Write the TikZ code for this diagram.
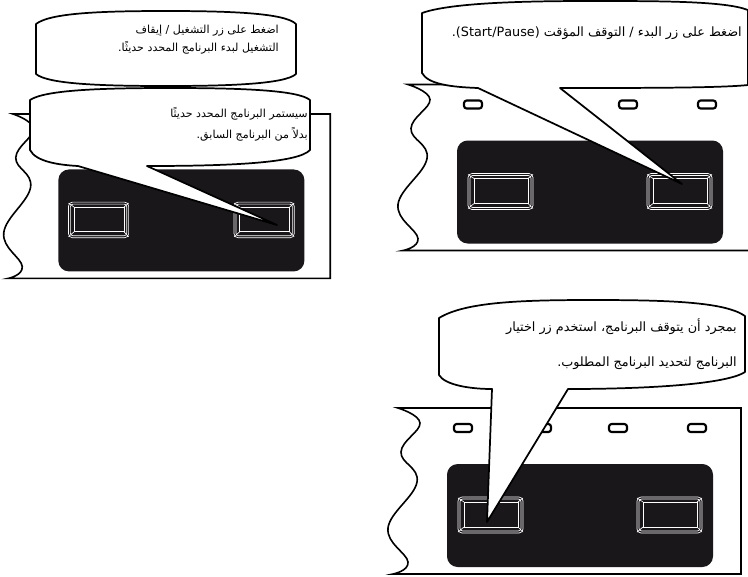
\documentclass[tikz,border=0pt]{standalone}
\usepackage{fontspec}
\TeXXeTstate=1
\newfontfamily\arabicfont[Script=Arabic]{DejaVu Sans}
\definecolor{panelblack}{HTML}{1A171B}
\tikzset{
	bubble/.style={draw=black,fill=white,line width=1.3pt,line join=round},
	bubbletxt/.style={anchor=east,inner sep=0pt,font=\arabicfont\fontsize{8.3}{10}\selectfont},
	bigtxt/.style={bubbletxt,font=\arabicfont\fontsize{9.6}{11}\selectfont},
	panelline/.style={draw=black,line width=1.2pt},
	keyline/.style={draw=white,line width=0.5pt}
}
% one strip of the unit, drawn in the coordinates of the lower right one
\newcommand{\drawpanel}{%
	\draw[panelline,fill=white] plot[smooth,tension=0.7] coordinates {(398,408) (420,423) (401,452) (417,482) (388,528) (408,562) (393,574)} -- (741,574) -- (741,408) -- cycle;
	\fill[panelblack,rounded corners=8] (447,464) rectangle (713,567);
	\foreach \x in {454,533,609,688}{
		\draw[black,line width=1.6pt,rounded corners=2] (\x,424) rectangle ({\x+18},432);}
	\foreach \x in {458,637}{
		\draw[keyline,rounded corners=3] (\x,497) rectangle ({\x+65},533);
		\draw[keyline,rounded corners=2] ({\x+2},499) rectangle ({\x+63},531);
		\draw[keyline] ({\x+6},502) rectangle ({\x+60},527);
		\draw[keyline] (\x,498) -- ({\x+6},502) ({\x+65},498) -- ({\x+60},502) (\x,532) -- ({\x+6},527) ({\x+65},532) -- ({\x+60},527);}
}
\begin{document}
\begin{tikzpicture}[x=0.75pt,y=-0.75pt]
	\clip (0,0) rectangle (748,576);
	% left
	\draw[bubble] (36,24) .. controls (50,13) and (100,11) .. (166,11) .. controls (230,11) and (285,13) .. (296,24) -- (296,74) .. controls (285,84) and (230,86) .. (166,86) .. controls (100,86) and (48,84) .. (36,74) -- cycle;
	\node[bubbletxt] (startline) at (279,31) {\beginR اضغط على زر التشغيل / إيقاف\endR};
	\node[bubbletxt] (startlinetwo) at (279,48) {\beginR التشغيل لبدء البرنامج المحدد حديثًا.\endR};
	\begin{scope}[shift={(13,114)},xscale=0.925,yscale=0.99,shift={(-398,-408)}]
		\drawpanel
	\end{scope}
	\draw[bubble] (30,100) .. controls (45,90) and (100,88) .. (170,88) .. controls (240,88) and (298,90) .. (310,100) -- (310,150) .. controls (298,163) and (230,166) .. (147,166) -- (277,225) -- (78,166) .. controls (60,165) and (36,162) .. (30,150) -- cycle;
	\node[bubbletxt] (newprog) at (308,114) {\beginR سيستمر البرنامج المحدد حديثًا\endR};
	\node[bubbletxt] (newprogtwo) at (308,134) {\beginR بدلاً من البرنامج السابق.\endR};
	% top right
	\begin{scope}[shift={(10,-323.5)}]
		\drawpanel
	\end{scope}
	\draw[bubble] (422,13) .. controls (450,3) and (520,1) .. (590,1) .. controls (660,1) and (725,1) .. (748,10) -- (748,85) .. controls (720,88) and (640,88) .. (560,88) -- (682,184) -- (478,88) .. controls (450,87) and (428,84) .. (422,73) -- cycle;
	\node[bigtxt] (pauseline) at (742,33) {\beginR اضغط على زر البدء / التوقف المؤقت (\beginL Start/Pause\endL).\endR};
	% bottom right
	\drawpanel
	\draw[bubble] (439,318) .. controls (465,302) and (520,300) .. (592,300) .. controls (670,300) and (725,302) .. (745,316) -- (745,372) .. controls (725,385) and (640,389) .. (568,389) -- (487,522) -- (492,389) .. controls (470,389) and (445,385) .. (439,375) -- cycle;
	\node[bigtxt] (selectline) at (737,327) {\beginR بمجرد أن يتوقف البرنامج، استخدم زر اختيار\endR};
	\node[bigtxt] (selectlinetwo) at (737,363) {\beginR البرنامج لتحديد البرنامج المطلوب.\endR};
\end{tikzpicture}
\end{document}
